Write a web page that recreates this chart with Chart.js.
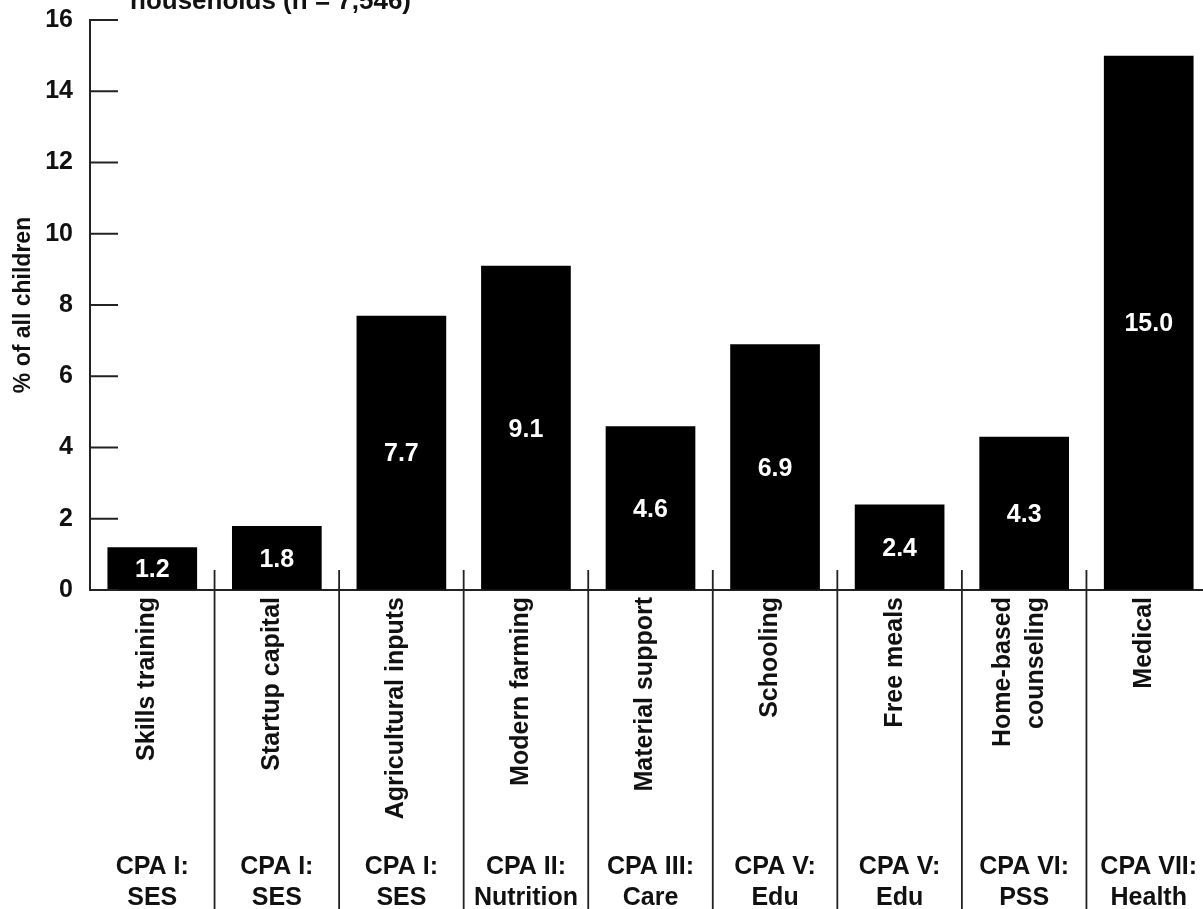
<!DOCTYPE html>
<html>
<head>
<meta charset="utf-8">
<title>% of all children by service</title>
<script src="https://cdn.jsdelivr.net/npm/chart.js@4.4.1/dist/chart.umd.min.js"></script>
<style>
  html, body { margin: 0; padding: 0; background: #fff; overflow: hidden; }
  #wrap { width: 1212px; height: 909px; }
</style>
</head>
<body>
<div id="wrap"><canvas id="bar-chart" width="1212" height="909"></canvas></div>
<script>
// ---------------- data ----------------
var services = [
  ["Skills training"],
  ["Startup capital"],
  ["Agricultural inputs"],
  ["Modern farming"],
  ["Material support"],
  ["Schooling"],
  ["Free meals"],
  ["Home-based", "counseling"],
  ["Medical"]
];
var cpaGroups = [
  ["CPA I:", "SES"],
  ["CPA I:", "SES"],
  ["CPA I:", "SES"],
  ["CPA II:", "Nutrition"],
  ["CPA III:", "Care"],
  ["CPA V:", "Edu"],
  ["CPA V:", "Edu"],
  ["CPA VI:", "PSS"],
  ["CPA VII:", "Health"]
];
var pctChildren = [1.2, 1.8, 7.7, 9.1, 4.6, 6.9, 2.4, 4.3, 15.0];
var yTicks = [0, 2, 4, 6, 8, 10, 12, 14, 16];
var titleText = "households (n = 7,546)";

var FONT = "'Liberation Sans', Arial, Helvetica, sans-serif";

// ---------------- plugins ----------------
// inner ticks on the y axis
var innerTicks = {
  id: 'innerTicks',
  afterDraw: function(chart) {
    var ctx = chart.ctx, y = chart.scales.y, left = chart.chartArea.left;
    ctx.save();
    ctx.strokeStyle = '#222';
    ctx.lineWidth = 2;
    y.ticks.forEach(function(t) {
      var py = y.getPixelForValue(t.value);
      ctx.beginPath();
      ctx.moveTo(left, py);
      ctx.lineTo(left + 28, py);
      ctx.stroke();
    });
    ctx.restore();
  }
};

// separators, rotated service names and CPA groups under the axis
var categoryText = {
  id: 'categoryText',
  afterDraw: function(chart) {
    var ctx = chart.ctx, x = chart.scales.x, area = chart.chartArea;
    var step = x.getPixelForValue(1) - x.getPixelForValue(0);
    ctx.save();
    ctx.strokeStyle = '#222';
    ctx.lineWidth = 1.8;
    for (var i = 0; i < services.length - 1; i++) {
      var sx = x.getPixelForValue(i) + step / 2;
      ctx.beginPath();
      ctx.moveTo(sx, area.bottom - 20);
      ctx.lineTo(sx, chart.height);
      ctx.stroke();
    }
    ctx.fillStyle = '#111';
    ctx.font = 'bold 25px ' + FONT;
    services.forEach(function(lines, i) {
      var cx = x.getPixelForValue(i) - 5;
      ctx.save();
      ctx.translate(cx, area.bottom + 7);
      ctx.rotate(-Math.PI / 2);
      ctx.textAlign = 'right';
      ctx.textBaseline = 'middle';
      var lh = 33;
      lines.forEach(function(line, j) {
        ctx.fillText(line, 0, (j - (lines.length - 1) / 2) * lh);
      });
      ctx.restore();
    });
    ctx.textAlign = 'center';
    ctx.textBaseline = 'middle';
    cpaGroups.forEach(function(lines, i) {
      var cx = x.getPixelForValue(i);
      ctx.fillText(lines[0], cx, 867);
      ctx.fillText(lines[1], cx, 898);
    });
    ctx.restore();
  }
};

// value labels inside the bars + clipped title line
var barValues = {
  id: 'barValues',
  afterDatasetsDraw: function(chart) {
    var ctx = chart.ctx;
    var meta = chart.getDatasetMeta(0);
    ctx.save();
    ctx.fillStyle = '#fff';
    ctx.font = 'bold 25px ' + FONT;
    ctx.textAlign = 'center';
    ctx.textBaseline = 'middle';
    meta.data.forEach(function(bar, i) {
      ctx.fillText(pctChildren[i].toFixed(1), bar.x, (bar.y + bar.base) / 2 + 2);
    });
    ctx.fillStyle = '#111';
    ctx.font = 'bold 26px ' + FONT;
    ctx.textAlign = 'left';
    ctx.textBaseline = 'alphabetic';
    ctx.fillText(titleText, 130, 9);
    ctx.restore();
  }
};

// ---------------- chart ----------------
new Chart(document.getElementById("bar-chart"), {
  type: 'bar',
  data: {
    labels: services.map(function(s) { return s.join(' '); }),
    datasets: [{
      label: "% of all children",
      data: pctChildren,
      backgroundColor: "#000",
      borderWidth: 0,
      barPercentage: 0.72,
      categoryPercentage: 1.0
    }]
  },
  options: {
    responsive: false,
    animation: false,
    devicePixelRatio: 1,
    layout: { padding: { top: 20, left: 0, right: 1, bottom: 0 } },
    plugins: {
      legend: { display: false },
      tooltip: { enabled: false }
    },
    scales: {
      x: {
        type: 'category',
        ticks: { display: false },
        grid: { display: false, drawTicks: false },
        border: { display: true, color: '#222', width: 2 },
        afterFit: function(scale) { scale.height = 319; }
      },
      y: {
        min: 0,
        max: 16,
        afterBuildTicks: function(scale) {
          scale.ticks = yTicks.map(function(v) { return { value: v }; });
        },
        ticks: {
          color: '#111',
          padding: 17,
          font: { family: FONT, size: 25, weight: 'bold' }
        },
        grid: { drawOnChartArea: false, drawTicks: false },
        border: { display: true, color: '#222', width: 2 },
        title: {
          display: true,
          text: '% of all children',
          color: '#111',
          font: { family: FONT, size: 23, weight: 'bold' },
          padding: { top: 10, bottom: 0 }
        },
        afterFit: function(scale) {
          scale.width = 90;
          scale.paddingTop = 0;
          scale.paddingBottom = 0;
        }
      }
    }
  },
  plugins: [innerTicks, categoryText, barValues]
});
</script>
</body>
</html>
